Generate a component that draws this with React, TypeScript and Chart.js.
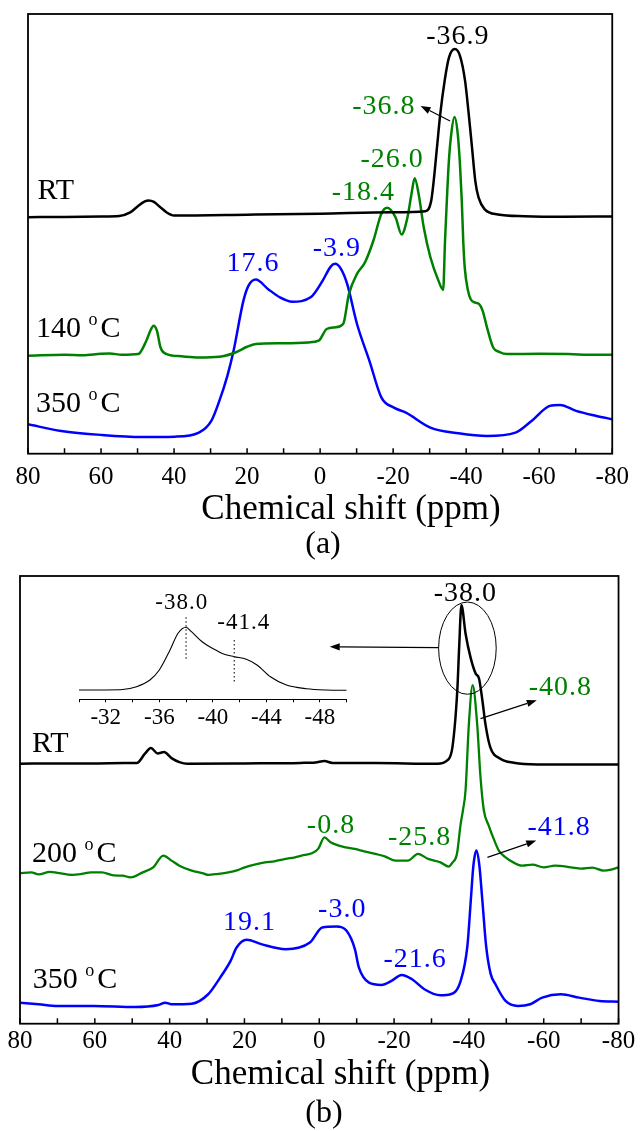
import React, { useEffect, useRef } from "react";
import { Chart, registerables } from "chart.js";

Chart.register(...registerables);

const SERIF = "'Liberation Serif', 'Times New Roman', Times, serif";
const BLACK = "#000000";
const GREEN = "#008000";
const BLUE = "#0000ff";

// ---------- Panel (a): chemical shift (ppm) / stacked intensity ----------
const A_RT_PPM = [80, 70, 60, 55, 52, 50, 48, 47, 45.5, 44, 42, 40, 20, 0, -20, -28.8, -30.4, -31.1, -32.0, -32.9, -34.1, -35.3, -36.9, -38.3, -39.7, -40.7, -41.6, -42.5, -43.4, -45.1, -48.7, -55.9, -66.7, -80];
const A_RT_INT = [236, 236.2, 236.7, 237.2, 240.7, 246.7, 251.7, 252.7, 251.2, 246.7, 240.7, 237.7, 238.5, 239.5, 241, 242, 252, 272, 305.4, 338.7, 372, 395.4, 403.7, 397, 372, 338.7, 305.4, 272, 255.4, 243.7, 238.7, 237, 236.4, 236.7];

const A_140_PPM = [80, 70, 65, 60, 57.6, 54.3, 49.8, 47.6, 46.5, 45.6, 44.7, 43.7, 42, 38, 33.2, 27.6, 23.2, 20, 17.6, 10, 3.2, 0.4, -1.8, -4, -6.3, -7.9, -10.1, -12.3, -14.6, -16.8, -18.4, -20.7, -22.3, -23.9, -25.0, -25.9, -27.0, -28.4, -30.2, -32.4, -33.7, -34.2, -34.7, -35.2, -35.9, -36.8, -37.7, -38.3, -38.8, -39.2, -39.6, -40.5, -41.2, -42.5, -43.5, -44.5, -45.7, -47.4, -49.0, -51.3, -60, -67.9, -75, -80];
const A_140_INT = [97.7, 98.7, 98.2, 99.7, 100, 98.7, 99.4, 112.7, 122.7, 127.7, 122.7, 106, 99.4, 97.2, 96, 96.7, 101, 106.7, 109.4, 110.2, 111, 112.7, 124.4, 126, 129.4, 159.4, 179.4, 191, 212.7, 239.7, 245.4, 235.4, 218.7, 235.4, 258.7, 274.7, 258.7, 225.4, 196, 172.7, 163.4, 212, 252, 288.7, 318.7, 336, 318.7, 288.7, 252, 212, 186, 162.7, 154.4, 150.7, 149.4, 142.7, 126, 106, 101.7, 99.4, 99.7, 99.4, 98.7, 98.7];

const A_350_PPM = [80, 70.9, 59.8, 48.7, 39.8, 33.2, 29.8, 27.6, 25.4, 23.7, 21, 19.6, 17.6, 14.3, 11, 7.6, 2.6, -0.7, -2.9, -4.1, -5.7, -7.4, -10.1, -13.5, -16.8, -20.2, -23.5, -30.2, -37.9, -45.7, -53.5, -57.9, -62.9, -65.7, -70.1, -75.7, -80];
const A_350_INT = [29.4, 22.7, 18.7, 16.7, 17, 21, 32.7, 52.7, 77.7, 102.7, 152.7, 167.7, 173.7, 164.4, 156, 151.7, 156, 172.7, 186.7, 189.4, 184.4, 169.4, 129.4, 92.7, 56, 46, 41, 26, 20.4, 17.7, 21, 32.7, 47.7, 48.7, 42.7, 37.7, 34.4];

// ---------- Panel (b) ----------
const B_RT_PPM = [80, 70, 60, 52, 48.8, 46.6, 45.0, 43.2, 41.5, 39.5, 37.4, 35.2, 20, 5, 1, -1.4, -3.5, -15, -31.6, -34.2, -35.6, -36.9, -37.4, -38.0, -39.1, -40.4, -41.8, -42.7, -43.6, -44.4, -45.7, -48.4, -52.0, -58.2, -80];
const B_RT_INT = [259.4, 259.7, 259.7, 260, 260, 269.4, 275, 269.7, 271, 265, 261, 259.4, 259.7, 260.2, 260.7, 262, 260.2, 260, 259.4, 262.7, 276, 332.7, 376, 417.7, 389.4, 366, 349.4, 344.4, 322.7, 299.4, 276, 264.4, 260.4, 258.7, 258.7];

const B_200_PPM = [80, 77, 75, 72, 70, 66, 63.5, 61, 58.1, 55, 52.6, 50.4, 47.2, 44.4, 41.7, 39.5, 37.4, 34.1, 31, 29.7, 27, 24.3, 22, 19.9, 17, 14.5, 12, 9.0, 6.5, 4.7, 2, 0.3, -1.4, -3, -5.2, -7, -9.5, -12, -15.0, -17.5, -20.4, -23.7, -26.4, -29.1, -32.4, -34.6, -35.6, -36.8, -37.8, -38.4, -39.1, -40.0, -41.0, -42.2, -43.1, -44.0, -45.3, -46.6, -48.0, -49.8, -52.0, -54.2, -57, -60, -63, -67.3, -70, -73, -76, -78, -80];
const B_200_INT = [150, 151, 149, 151.5, 150.5, 148.5, 149.4, 151, 151, 148, 147.7, 146, 151, 156, 167.7, 162.7, 157.7, 152.7, 150, 148.4, 149.5, 151, 153, 156, 159, 161, 162, 164.4, 166, 167.7, 170, 174.4, 186, 181, 177.7, 176, 174.4, 172, 169.4, 167, 162.7, 162.7, 169.4, 164.4, 161, 156.7, 160.7, 169.4, 199.4, 212.7, 232.7, 299.4, 337.7, 299.4, 246, 212.7, 197.7, 184.7, 172.7, 166, 160.7, 157.7, 158.7, 156, 157.7, 156, 154.7, 155.7, 152.7, 153.7, 156];

const B_350_PPM = [80, 75, 70, 60.2, 49.3, 43, 41.2, 39.5, 34.1, 29.7, 26.5, 23.7, 22.1, 19.4, 15.5, 9.0, 2.5, -0.8, -4.6, -7.3, -9.5, -10.6, -13.3, -16.6, -19.3, -22.0, -24.8, -28.1, -32.4, -35.1, -37.8, -39.6, -40.5, -41.2, -42.0, -42.8, -43.6, -44.6, -45.8, -47.1, -49.8, -53.1, -56.4, -59.6, -64.6, -69.5, -74.9, -80];
const B_350_INT = [21, 19.4, 17.7, 17.7, 16.7, 18.7, 21, 19.4, 20, 29.4, 46, 62.7, 76, 83.7, 79.4, 74.4, 81, 96, 97, 92.7, 74.7, 56, 41, 38.7, 42.7, 48.7, 44.4, 34.4, 28.4, 29.4, 42.7, 77.7, 122.7, 157.7, 172.7, 157.7, 122.7, 77.7, 50, 39.4, 22.7, 17.7, 19.4, 26, 29.4, 26, 22.7, 22];

// ---------- Inset (RT, expanded) ----------
const INSET_PPM = [-30, -33.1, -34.3, -35.3, -36.0, -36.8, -37.4, -38.0, -38.4, -39.2, -40.1, -40.8, -41.6, -42.5, -43.3, -44.3, -45.5, -47.0, -48.5, -50];
const INSET_INT = [9.3, 9.6, 12.6, 19.3, 29.3, 49.3, 66, 72, 67.6, 57.6, 50, 45.3, 42.6, 40, 34.3, 22.6, 14.3, 10.6, 9.3, 9];
const INSET_MARK_PPM = [-38.0, -41.6];
const INSET_MARK_TOP = [82, 59.3];
const INSET_MARK_BOTTOM = [39.3, 17.3];
const INSET_MARK_TEXT = ["-38.0", "-41.4"];
const INSET_TEXT_PPM = [-37.64, -42.27];
const INSET_TEXT_INT = [96, 76.5];

// ---------- tick labels / axes ----------
const X_MIN = -80;
const X_MAX = 80;
const X_STEP = 20;
const MINOR_TICKS = [80, 70, 60, 50, 40, 30, 20, 10, 0, -10, -20, -30, -40, -50, -60, -70, -80];
const AXIS_TITLE = "Chemical shift (ppm)";

// ---------- annotations ----------
type PeakLabel = { text: string; color: string; ppm: number; int: number };
type SeriesLabel = { text: string; unit: string; ppm: number; int: number };
type Arrow = { from: [number, number]; to: [number, number] };

const A_PEAKS: PeakLabel[] = [
  { text: "-36.9", color: BLACK, ppm: -37.6, int: 415.9 },
  { text: "-36.8", color: GREEN, ppm: -17.3, int: 346.5 },
  { text: "-26.0", color: GREEN, ppm: -19.6, int: 293.4 },
  { text: "-18.4", color: GREEN, ppm: -11.7, int: 260.7 },
  { text: "17.6", color: BLUE, ppm: 18.55, int: 189.4 },
  { text: "-3.9", color: BLUE, ppm: -4.46, int: 204.4 },
];
const A_SERIES: SeriesLabel[] = [
  { text: "RT", unit: "", ppm: 77.4, int: 254.2 },
  { text: "140", unit: "C", ppm: 77.8, int: 116 },
  { text: "350", unit: "C", ppm: 77.8, int: 42 },
];
const A_ARROWS: Arrow[] = [{ from: [-35.6, 332], to: [-27.5, 347] }];

const B_PEAKS: PeakLabel[] = [
  { text: "-38.0", color: BLACK, ppm: -38.9, int: 429.4 },
  { text: "-40.8", color: GREEN, ppm: -64.3, int: 335.2 },
  { text: "-0.8", color: GREEN, ppm: -3.0, int: 197.7 },
  { text: "-25.8", color: GREEN, ppm: -26.7, int: 186 },
  { text: "-41.8", color: BLUE, ppm: -64.0, int: 195.7 },
  { text: "19.1", color: BLUE, ppm: 18.8, int: 100.7 },
  { text: "-3.0", color: BLUE, ppm: -6.0, int: 114 },
  { text: "-21.6", color: BLUE, ppm: -25.5, int: 64.4 },
];
const B_SERIES: SeriesLabel[] = [
  { text: "RT", unit: "", ppm: 76.8, int: 271 },
  { text: "200", unit: "C", ppm: 76.8, int: 161 },
  { text: "350", unit: "C", ppm: 76.6, int: 35.4 },
];
const B_ARROWS: Arrow[] = [
  { from: [-31.85, 375.2], to: [-2.8, 376] },
  { from: [-43.1, 304.4], to: [-58.15, 322.7] },
  { from: [-44.95, 166], to: [-58.0, 182.7] },
];
const B_ELLIPSE = { ppm: -39.6, int: 374.7, halfPpm: 7.7, halfInt: 46 };

// ---------- drawing helpers ----------
function drawText(ctx: CanvasRenderingContext2D, s: string, x: number, y: number, size: number, color: string, spacing = 0) {
  ctx.save();
  ctx.font = `${size}px ${SERIF}`;
  ctx.fillStyle = color;
  ctx.textAlign = "center";
  ctx.textBaseline = "middle";
  if (spacing) (ctx as any).letterSpacing = `${spacing}px`;
  ctx.fillText(s, x + spacing / 2, y);
  ctx.restore();
}

function drawArrow(ctx: CanvasRenderingContext2D, x1: number, y1: number, x2: number, y2: number, lw: number) {
  const ang = Math.atan2(y2 - y1, x2 - x1);
  const len = 10;
  const half = 3.6;
  const bx = x2 - len * Math.cos(ang);
  const by = y2 - len * Math.sin(ang);
  ctx.save();
  ctx.strokeStyle = "#000";
  ctx.fillStyle = "#000";
  ctx.lineWidth = lw;
  ctx.beginPath();
  ctx.moveTo(x1, y1);
  ctx.lineTo(bx, by);
  ctx.stroke();
  ctx.beginPath();
  ctx.moveTo(x2, y2);
  ctx.lineTo(bx + half * Math.sin(ang), by - half * Math.cos(ang));
  ctx.lineTo(bx - half * Math.sin(ang), by + half * Math.cos(ang));
  ctx.closePath();
  ctx.fill();
  ctx.restore();
}

function drawSeriesLabel(ctx: CanvasRenderingContext2D, l: SeriesLabel, x: number, y: number) {
  ctx.save();
  ctx.fillStyle = "#000";
  ctx.textAlign = "left";
  ctx.textBaseline = "alphabetic";
  ctx.font = `30px ${SERIF}`;
  if (!l.unit) {
    ctx.fillText(l.text, x, y);
  } else {
    const head = l.text + " ";
    ctx.fillText(head, x, y);
    const w = ctx.measureText(head).width;
    ctx.font = `18px ${SERIF}`;
    ctx.fillText("o", x + w, y - 12);
    const wo = ctx.measureText("o").width;
    ctx.font = `30px ${SERIF}`;
    ctx.fillText(l.unit, x + w + wo + 3, y);
  }
  ctx.restore();
}

type PanelDecor = {
  id: string;
  peaks: PeakLabel[];
  series: SeriesLabel[];
  arrows: Arrow[];
  ellipse?: typeof B_ELLIPSE;
  titleAt: [number, number];
  panelText: string;
  panelAt: [number, number];
};

function makeDecor(d: PanelDecor) {
  return {
    id: d.id,
    afterDraw(chart: any) {
      const { ctx, chartArea: ca } = chart;
      const xs = chart.scales.x;
      const ys = chart.scales.y;
      const X = (v: number) => xs.getPixelForValue(v);
      const Y = (v: number) => ys.getPixelForValue(v);
      ctx.save();
      // frame
      ctx.strokeStyle = "#000";
      ctx.lineWidth = 1.8;
      ctx.strokeRect(ca.left, ca.top, ca.right - ca.left, ca.bottom - ca.top);
      // inward ticks
      ctx.lineWidth = 1.5;
      ctx.beginPath();
      for (const v of MINOR_TICKS) {
        const px = X(v);
        ctx.moveTo(px, ca.bottom);
        ctx.lineTo(px, ca.bottom - 5.5);
      }
      ctx.stroke();
      ctx.restore();

      for (const p of d.peaks) drawText(ctx, p.text, X(p.ppm), Y(p.int), 28, p.color, 1);
      for (const s of d.series) drawSeriesLabel(ctx, s, X(s.ppm), Y(s.int));
      for (const a of d.arrows) drawArrow(ctx, X(a.from[0]), Y(a.from[1]), X(a.to[0]), Y(a.to[1]), 1.2);
      if (d.ellipse) {
        const e = d.ellipse;
        const cx = X(e.ppm);
        const cy = Y(e.int);
        const rx = Math.abs(X(e.ppm - e.halfPpm) - cx);
        const ry = Math.abs(Y(e.int + e.halfInt) - cy);
        ctx.save();
        ctx.strokeStyle = "#000";
        ctx.lineWidth = 1;
        ctx.beginPath();
        ctx.ellipse(cx, cy, rx, ry, 0, 0, Math.PI * 2);
        ctx.stroke();
        ctx.restore();
      }
      drawText(ctx, AXIS_TITLE, d.titleAt[0], d.titleAt[1], 35, "#000");
      drawText(ctx, d.panelText, d.panelAt[0], d.panelAt[1], 32, "#000");
    },
  };
}

const insetDecor = {
  id: "insetDecor",
  afterDraw(chart: any) {
    const { ctx } = chart;
    const X = (v: number) => chart.scales.x.getPixelForValue(v);
    const Y = (v: number) => chart.scales.y.getPixelForValue(v);
    ctx.save();
    ctx.strokeStyle = "#222";
    ctx.lineWidth = 1.2;
    ctx.setLineDash([1.5, 2.5]);
    INSET_MARK_PPM.forEach((v, i) => {
      ctx.beginPath();
      ctx.moveTo(X(v), Y(INSET_MARK_TOP[i]));
      ctx.lineTo(X(v), Y(INSET_MARK_BOTTOM[i]));
      ctx.stroke();
    });
    ctx.restore();
    INSET_MARK_TEXT.forEach((t, i) => drawText(ctx, t, X(INSET_TEXT_PPM[i]), Y(INSET_TEXT_INT[i]), 23, "#000", 1));
  },
};

function line(ppm: number[], int: number[], color: string, width = 2.5) {
  return {
    data: ppm.map((x, i) => ({ x, y: int[i] })),
    borderColor: color,
    backgroundColor: color,
    borderWidth: width,
    pointRadius: 0,
    fill: false,
    tension: 0.4,
    cubicInterpolationMode: "monotone" as const,
  };
}

function mainX(padding: number) {
  return {
    type: "linear" as const,
    reverse: true,
    min: X_MIN,
    max: X_MAX,
    ticks: {
      stepSize: X_STEP,
      autoSkip: false,
      maxRotation: 0,
      padding,
      color: "#000",
      font: { family: SERIF, size: 25, lineHeight: 1 },
    },
    grid: { display: false, drawTicks: false },
    border: { display: false },
  };
}

function baseOptions(padding: any, xScale: any, yMax: number) {
  return {
    responsive: false,
    animation: false as const,
    devicePixelRatio: 1,
    events: [] as any[],
    layout: { padding },
    plugins: { legend: { display: false }, tooltip: { enabled: false }, title: { display: false } },
    scales: {
      x: xScale,
      y: { type: "linear" as const, display: false, min: 0, max: yMax },
    },
  };
}

export default function App() {
  const aRef = useRef<HTMLCanvasElement>(null);
  const bRef = useRef<HTMLCanvasElement>(null);
  const iRef = useRef<HTMLCanvasElement>(null);

  useEffect(() => {
    const chartA = new Chart(aRef.current as HTMLCanvasElement, {
      type: "line",
      data: {
        datasets: [
          line(A_RT_PPM, A_RT_INT, BLACK),
          line(A_140_PPM, A_140_INT, GREEN),
          line(A_350_PPM, A_350_INT, BLUE),
        ],
      },
      options: baseOptions({ left: 28, right: 21, top: 14, bottom: 69.1 }, mainX(11.1), 438.7) as any,
      plugins: [
        makeDecor({
          id: "decorA",
          peaks: A_PEAKS,
          series: A_SERIES,
          arrows: A_ARROWS,
          titleAt: [351, 509.9],
          panelText: "(a)",
          panelAt: [323, 545],
        }),
      ],
    });

    const chartB = new Chart(bRef.current as HTMLCanvasElement, {
      type: "line",
      data: {
        datasets: [
          line(B_RT_PPM, B_RT_INT, BLACK),
          line(B_200_PPM, B_200_INT, GREEN, 2.3),
          line(B_350_PPM, B_350_INT, BLUE),
        ],
      },
      options: baseOptions({ left: 20, right: 17.7, top: 6, bottom: 72.7 }, mainX(4.8), 446.7) as any,
      plugins: [
        makeDecor({
          id: "decorB",
          peaks: B_PEAKS,
          series: B_SERIES,
          arrows: B_ARROWS,
          ellipse: B_ELLIPSE,
          titleAt: [340.5, 504.7],
          panelText: "(b)",
          panelAt: [324, 544],
        }),
      ],
    });

    const chartI = new Chart(iRef.current as HTMLCanvasElement, {
      type: "line",
      data: { datasets: [line(INSET_PPM, INSET_INT, BLACK, 1.1)] },
      options: baseOptions(
        { left: 79, right: 13.3, top: 10, bottom: 7.3 },
        {
          type: "linear",
          reverse: true,
          min: -50,
          max: -30,
          ticks: {
            stepSize: 2,
            autoSkip: false,
            maxRotation: 0,
            padding: 3.7,
            color: "#000",
            font: { family: SERIF, size: 23, lineHeight: 1 },
            callback: (v: any) => (Number(v) % 4 === 0 ? String(v) : ""),
          },
          grid: { display: true, drawOnChartArea: false, drawTicks: true, tickLength: 3, color: "#000", lineWidth: 1 },
          border: { display: true, color: "#000", width: 1 },
        },
        99.3
      ) as any,
      plugins: [insetDecor],
    });

    return () => {
      chartA.destroy();
      chartB.destroy();
      chartI.destroy();
    };
  }, []);

  return (
    <div style={{ position: "absolute", left: 0, top: 0, width: 640, height: 1131, background: "#fff" }}>
      <canvas ref={aRef} width={640} height={570} style={{ position: "absolute", left: 0, top: 0, width: 640, height: 570 }} />
      <canvas ref={bRef} width={640} height={561} style={{ position: "absolute", left: 0, top: 570, width: 640, height: 561 }} />
      <canvas ref={iRef} width={360} height={150} style={{ position: "absolute", left: 0, top: 590, width: 360, height: 150 }} />
    </div>
  );
}
